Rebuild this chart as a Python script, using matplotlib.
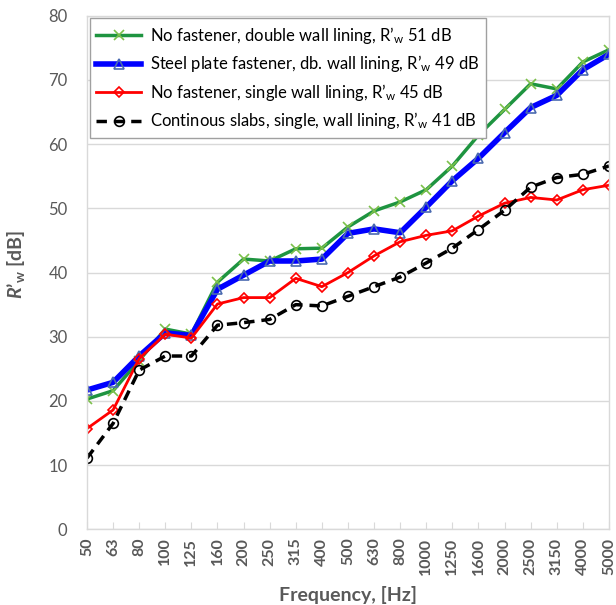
import matplotlib
matplotlib.use("Agg")
import matplotlib.pyplot as plt

# 1/3-octave band centre frequencies
freqs = ["50", "63", "80", "100", "125", "160", "200", "250", "315", "400", "500",
         "630", "800", "1000", "1250", "1600", "2000", "2500", "3150", "4000", "5000"]

no_fast_double = [20.3, 21.6, 26.3, 31.2, 30.4, 38.5, 42.1, 41.8, 43.7, 43.8, 47.1,
                  49.6, 51.0, 52.9, 56.6, 61.4, 65.4, 69.4, 68.6, 72.8, 74.7]
steel_plate = [21.7, 22.9, 27.0, 30.6, 30.2, 37.4, 39.6, 41.8, 41.8, 42.1, 46.1,
               46.8, 46.2, 50.2, 54.3, 57.8, 61.8, 65.7, 67.6, 71.6, 74.0]
no_fast_single = [15.7, 18.6, 26.6, 30.4, 29.8, 35.1, 36.1, 36.1, 39.1, 37.8, 40.0,
                  42.6, 44.8, 45.8, 46.5, 48.8, 50.8, 51.7, 51.3, 52.9, 53.6]
cont_slabs = [11.1, 16.5, 24.8, 27.0, 27.0, 31.8, 32.2, 32.7, 35.0, 34.8, 36.3,
              37.8, 39.3, 41.5, 43.8, 46.7, 49.7, 53.3, 54.8, 55.3, 56.6]

labels = ["No fastener, double wall lining, R’$_{\\mathrm{w}}$ 51 dB",
          "Steel plate fastener, db. wall lining, R’$_{\\mathrm{w}}$ 49 dB",
          "No fastener, single wall lining, R’$_{\\mathrm{w}}$ 45 dB",
          "Continous slabs, single, wall lining, R’$_{\\mathrm{w}}$ 41 dB"]

plt.rcParams["font.family"] = ["Lato", "DejaVu Sans"]
plt.rcParams["mathtext.fontset"] = "custom"
plt.rcParams["mathtext.rm"] = "Lato"
plt.rcParams["mathtext.it"] = "Lato:italic:bold"
plt.rcParams["mathtext.bf"] = "Lato:bold"

grey = "#595959"
x = list(range(len(freqs)))

fig = plt.figure(figsize=(6.16, 6.05), dpi=100)
ax = fig.add_axes([0.1412, 0.125, 0.8474, 0.849])

ax.plot(x, no_fast_double, color="#1e9440", lw=2.5, marker="x", ms=7,
        mec="#7cc04a", mew=1.2, label=labels[0])
ax.plot(x, steel_plate, color="#0000ff", lw=4, marker="^", ms=7,
        mfc="none", mec="#4a6ab0", mew=1.2, label=labels[1])
ax.plot(x, no_fast_single, color="#ff0000", lw=2, marker="D", ms=5,
        mfc="none", mec="#ff0000", mew=1.2, label=labels[2])
ax.plot(x, cont_slabs, color="black", lw=2.5, ls=(0, (3, 2)), marker="o", ms=7,
        mfc="none", mec="black", mew=1.2, label=labels[3])

ax.set_xlim(0, len(freqs) - 1)
ax.set_ylim(0, 80)
ax.set_yticks(range(0, 81, 10))
ax.set_xticks(x)
ax.set_xticklabels(freqs, rotation=90, fontweight="bold", fontsize=11.5, color=grey)
ax.tick_params(axis="y", length=0, pad=14, labelsize=12, labelcolor=grey)
ax.tick_params(axis="x", direction="in", length=5, color="#d9d9d9", pad=6)
ax.grid(axis="y", color="#d9d9d9", lw=1)
ax.set_axisbelow(True)
for s in ax.spines.values():
    s.set_color("#d9d9d9")
    s.set_linewidth(1)

ax.set_xlabel("Frequency, [Hz]", fontsize=14, fontweight="bold", color=grey, labelpad=8)
ax.set_ylabel(r"$\mathit{R}$’$_{\mathbf{w}}$ [dB]", fontsize=14, fontweight="bold",
              color=grey)
ax.yaxis.set_label_coords(-0.115, 0.515)

leg = ax.legend(loc="upper left", bbox_to_anchor=(0.005, 0.995), fontsize=12,
                frameon=True, fancybox=False, edgecolor="#a0a0a0", framealpha=1,
                handlelength=2.7, handletextpad=0.5, borderpad=0.4, labelspacing=0.45,
                borderaxespad=0)
leg.get_frame().set_linewidth(1)

fig.savefig("out.png", dpi=100)
